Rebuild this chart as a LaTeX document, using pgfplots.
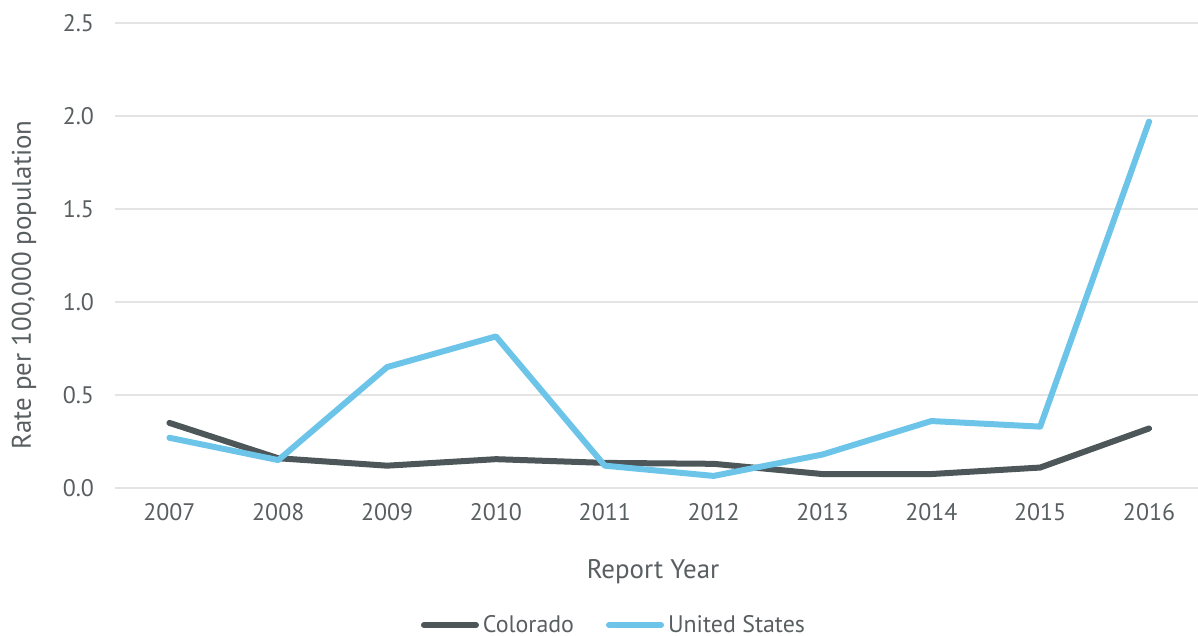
\documentclass[border=0pt]{standalone}
\usepackage{pgfplots}
\pgfplotsset{compat=1.18}
\usepackage{fontspec}
\setmainfont{PT Sans}
\definecolor{txt}{HTML}{595F61}
\definecolor{cogray}{HTML}{4D5658}
\definecolor{usblue}{HTML}{6DC4E9}
\definecolor{gridc}{HTML}{E4E4E4}

\pgfplotstableread{
x year CO US
0 2007 0.35 0.27
1 2008 0.16 0.15
2 2009 0.12 0.65
3 2010 0.155 0.815
4 2011 0.135 0.12
5 2012 0.13 0.065
6 2013 0.075 0.18
7 2014 0.075 0.36
8 2015 0.11 0.33
9 2016 0.32 1.97
}\datatable

\begin{document}
\begin{tikzpicture}
\useasboundingbox (-57.5bp,-74bp) rectangle (541.5bp,244bp);
\begin{axis}[
  at={(0,0)}, anchor=south west,
  scale only axis,
  width=541.5bp, height=232.5bp,
  xmin=-0.5, xmax=9.45,
  ymin=0, ymax=2.5,
  axis line style={draw=none},
  tick style={draw=none},
  ytick={0,0.5,...,2.5},
  /pgf/number format/fixed,
  /pgf/number format/fixed zerofill,
  /pgf/number format/precision=1,
  /pgf/number format/assume math mode=true,
  xtick={0,...,9},
  xticklabels={2007,2008,2009,2010,2011,2012,2013,2014,2015,2016},
  ymajorgrids,
  grid style={gridc, line width=1bp},
  ticklabel style={font=\fontsize{12}{14}\selectfont, text=txt},
  yticklabel style={xshift=-7bp},
  xticklabel style={yshift=-4bp},
  xlabel={Report Year},
  ylabel={Rate per 100,000 population},
  every axis y label/.style={at={(-45.5bp,101.5bp)}, rotate=90, anchor=center,
    font=\fontsize{13.5}{16}\selectfont, text=txt},
  every axis x label/.style={at={(269bp,-42bp)}, anchor=center,
    font=\fontsize{13.5}{16}\selectfont, text=txt},
  legend style={at={(250bp,-68.5bp)}, anchor=center, draw=none, fill=none,
    legend columns=2, font=\fontsize{12}{14}\selectfont, text=txt,
    /tikz/every even column/.append style={column sep=14bp},
    inner sep=0pt},
  legend image code/.code={\draw[#1, line cap=round] (0bp,0bp) -- (26bp,0bp);},
]
\addplot[cogray, line width=3bp, line join=round, line cap=round] table[x=x, y=CO] {\datatable};
\addlegendentry{Colorado}
\addplot[usblue, line width=3bp, line join=round, line cap=round] table[x=x, y=US] {\datatable};
\addlegendentry{United States}
\end{axis}
\end{tikzpicture}
\end{document}
